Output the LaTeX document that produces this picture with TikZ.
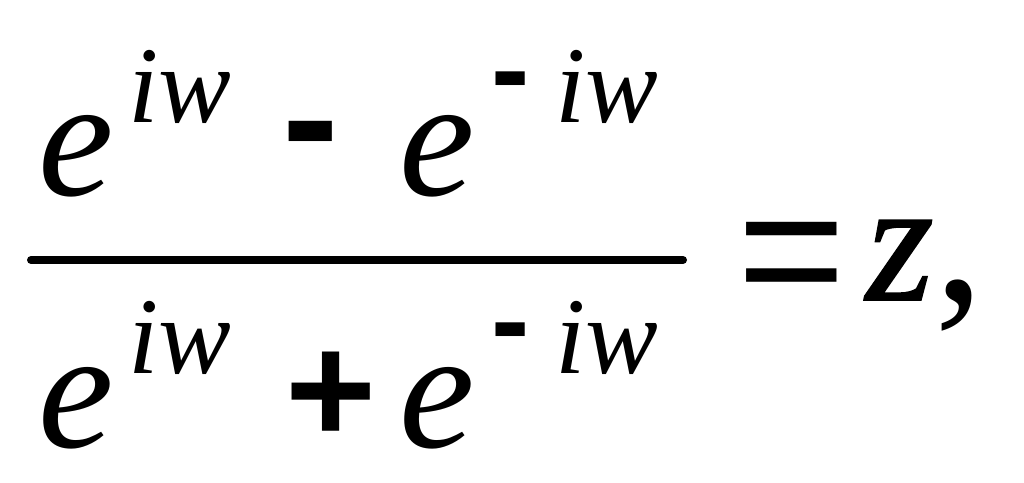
\documentclass[tikz,border=0pt]{standalone}
\usepackage{fontspec}
\setmainfont{Liberation Serif}
\newfontfamily\opfont{Liberation Sans}[BoldFont={Liberation Sans Bold}]
\newfontfamily\zfont{Liberation Serif}[FakeBold=1]
\tikzset{
  glyph/.style={anchor=base west, inner sep=0pt, outer sep=0pt, text=black},
  big/.style={glyph, font=\fontsize{170}{170}\selectfont\itshape},
  sup/.style={glyph, font=\fontsize{109}{109}\selectfont\itshape},
  bigop/.style={inner sep=0pt, outer sep=0pt, font=\fontsize{170}{170}\selectfont\opfont\bfseries},
  supop/.style={inner sep=0pt, outer sep=0pt, font=\fontsize{115}{115}\selectfont\opfont\bfseries},
}
\begin{document}
\begin{tikzpicture}[x=1pt,y=-1pt]
\useasboundingbox (0,0) rectangle (1024,482);
% numerator
\node[big] (e1) at (38,195) {e};
\node[sup] (s1) at (128,122) {iw};
\node[bigop, anchor=center] (m1) at (311,148) {-};
\node[big] (e2) at (399,195) {e};
\node[supop, anchor=center] (m2) at (511,90) {-};
\node[sup] (s2) at (555,122) {iw};
% fraction bar
\coordinate (b1) at (31,260);
\coordinate (b2) at (683,260);
\draw[line width=8pt, line cap=round] (b1) -- (b2);
% denominator
\node[big] (e3) at (38,447) {e};
\node[sup] (s3) at (128,373) {iw};
\node[font=\fontsize{156}{156}\selectfont\opfont\bfseries, inner sep=0pt, anchor=center] (p1) at (331,398) {+};
\node[big] (e4) at (399,447) {e};
\node[supop, anchor=center] (m3) at (511,341) {-};
\node[sup] (s4) at (555,373) {iw};
% right side
\node[font=\fontsize{186}{186}\selectfont\opfont, inner sep=0pt, anchor=center] (eq) at (792,268) {=};
\node[glyph, font=\fontsize{174}{174}\selectfont\zfont\itshape] (z) at (866,300) {z};
\node[glyph, font=\fontsize{200}{200}\selectfont] (comma) at (934,300) {,};
\end{tikzpicture}
\end{document}
